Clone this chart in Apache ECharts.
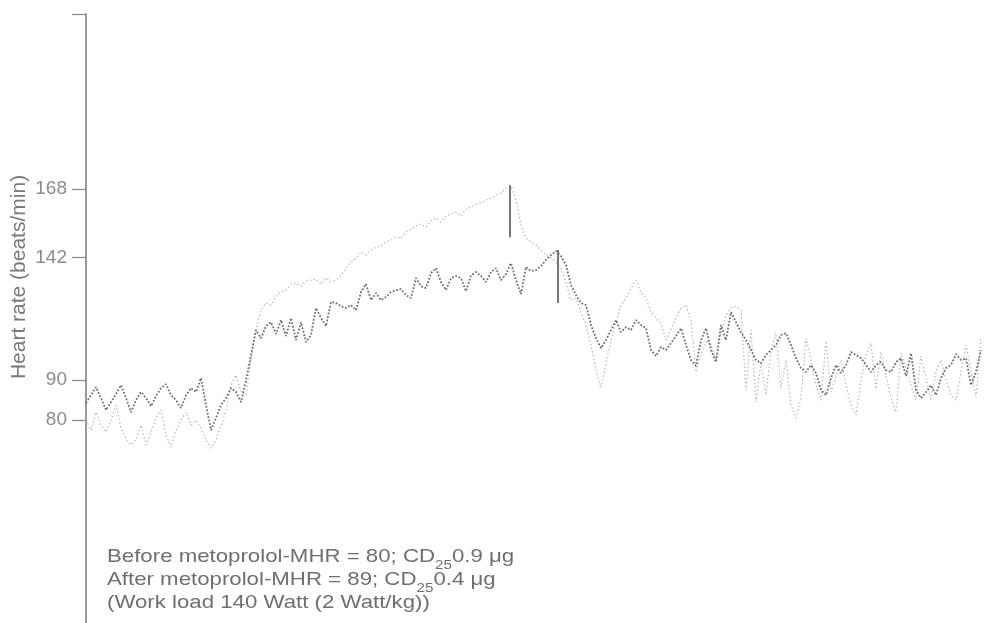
<!DOCTYPE html>
<html>
<head>
<meta charset="utf-8">
<script src="https://cdn.jsdelivr.net/npm/echarts@6/dist/echarts.min.js"></script>
<style>html,body{margin:0;padding:0;background:#fff}#c{width:985px;height:623px}</style>
</head>
<body>
<div id="c"></div>
<script>
// time step between samples (arbitrary time units)
var timeStep = 5;
// Heart rate (beats/min) before metoprolol (light trace)
var hrBefore = [80,76.2,83,78.1,75.4,80,85.7,77,73.1,70.5,72.4,78.1,70.5,75.4,80.8,83.8,74.3,69.7,76.2,80,
83,78.1,80,77,72.4,69.3,72.4,77.7,83.8,93.3,97.1,90.7,89.5,102.9,114.3,121.9,124.6,123.8,127.2,128.8,
129.5,131.8,132.2,131,132.9,133.3,133.7,131.8,134.1,132.6,133.3,134.9,137.9,140.2,141.7,144,142.9,144.8,145.9,146.3,
147.8,148.6,149.7,149.3,151.6,152.8,153.9,154.7,153.5,155.8,157,155.4,157.7,158.5,159.2,157.7,160.4,161.1,162.3,162.7,
163.8,164.6,165.7,166.5,168.4,169.1,163.8,154.3,149.3,147.8,146.7,144.8,142.9,141.7,140.2,137.9,132.2,125.7,126.5,121.1,
116.2,108.6,99,92.2,101.7,110.5,117.3,123.8,126.5,130.3,133.3,128.4,126.5,121.1,118.9,116.6,110.5,114.3,118.9,122.7,
123.8,118.1,98.3,104.8,110.5,108.6,102.9,113.5,120,122.7,123.4,121.9,91.4,114.3,86.9,101.7,89.5,106.7,113.1,92.2,
102.9,85.7,80.8,88.4,111.2,102.9,93.3,87.6,110.1,90.7,97.1,102.9,93.3,85.7,81.9,95.2,104.8,109.3,91.8,105.9,
97.1,88.4,83,105.5,99.8,93.3,87.6,104.4,96,87.6,98.3,102.9,95.2,89.5,87.6,98.3,108.6,98.3,88.8,111.6];
// Heart rate (beats/min) after metoprolol (dark trace)
var hrAfter = [86.5,89.5,92.6,88.4,83.8,86.9,89.9,93.3,88.4,83,87.6,90.7,88.4,85.3,89.1,92.2,93.7,89.5,87.6,84.6,
89.5,92.2,90.7,96,85.7,76.2,80.8,85.7,88.4,92.2,90.7,86.9,95.2,104.8,114.3,111.2,115.8,117.3,112.8,118.1,
112,118.9,110.5,117.3,109.7,112.4,122.7,118.9,115.8,125,124.6,123.4,122.7,123.8,121.9,128.8,131.8,125.7,128.4,125.7,
126.9,128.8,129.5,129.9,127.6,126.5,134.1,131,130.3,136,137.9,132.6,129.5,134.1,134.9,134.1,129.1,135.2,136.4,134.9,
132.6,136.4,137.9,133.3,135.6,139.8,133.3,128,138.3,136.8,137.1,138.7,141,142.9,144.4,142.5,139,131.4,127.6,124.6,
123.8,116.2,111.2,107.4,110.5,114.3,118.1,113.5,115.4,114.3,118.1,116.2,115,106.7,104.4,107.8,106.7,109.3,112,115,
108.6,102.9,100.6,110.5,115,106.7,102.1,116.2,110.5,121.1,117.3,113.5,110.5,106.7,102.9,101.7,104.8,106.7,108.6,112.4,
113.1,108.6,103.6,99.8,98.3,101,97.9,91.4,89.5,96,101,97.9,101,105.9,104.8,103.6,101,98.3,101,102.1,
99,98.3,102.1,103.6,96.8,105.5,91.4,88.4,90.7,93.3,89.5,96,99.8,101,105.1,102.9,103.6,93.3,98.3,106.7];
// End-of-exercise markers: time, top and bottom heart rate
var markerTime = [424, 472];
var markerTop = [169.5, 144.8];
var markerBottom = [149.7, 124.6];
// Y tick positions and their printed labels
var tickValues = [80, 95.2, 142, 168];
var tickLabels = ['80', '90', '142', '168'];
var axisMin = 2.7, axisMax = 234.7;

function pairs(arr){ return arr.map(function(v,i){ return [i*timeStep, v]; }); }
var labelMap = {};
tickValues.forEach(function(v,i){ labelMap[v] = tickLabels[i]; });

var chart = echarts.init(document.getElementById('c'));
var font = 'Liberation Sans, Arial, sans-serif';
chart.setOption({
  animation: false,
  backgroundColor: '#fff',
  grid: {left: 86, right: 0, top: 14, bottom: 0, containLabel: false},
  xAxis: {type: 'value', min: 0, max: 899, show: false},
  yAxis: {
    type: 'value', min: axisMin, max: axisMax,
    axisLine: {show: true, lineStyle: {color: '#777', width: 1.5}},
    axisTick: {show: true, length: 14, customValues: tickValues.concat([axisMax]), lineStyle: {color: '#888', width: 1.2}},
    axisLabel: {show: true, customValues: tickValues, margin: 19, color: '#8c8c8c', fontSize: 19, fontFamily: font,
      formatter: function(v){ return labelMap[v] !== undefined ? labelMap[v] : ''; }},
    splitLine: {show: false}
  },
  series: [
    {name: 'Before metoprolol', type: 'line', data: pairs(hrBefore), showSymbol: false, silent: true,
      lineStyle: {color: '#b3b3b3', width: 1.2, type: [1.4, 2.4]}},
    {name: 'After metoprolol', type: 'line', data: pairs(hrAfter), showSymbol: false, silent: true,
      lineStyle: {color: '#707070', width: 1.8, type: [1.8, 1.7]},
      markLine: {symbol: 'none', silent: true, label: {show: false},
        lineStyle: {color: '#777', width: 2, type: 'solid'},
        data: markerTime.map(function(t,i){ return [{coord: [t, markerTop[i]]}, {coord: [t, markerBottom[i]]}]; })}
    }
  ],
  graphic: [
    {type: 'text', x: 19, y: 277, rotation: Math.PI/2,
      style: {text: 'Heart rate (beats/min)', fill: '#7a7a7a', font: '21px ' + font, textAlign: 'center', textVerticalAlign: 'middle'}},
    {type: 'text', x: 107, y: 545, scaleX: 1.17,
      style: {
        text: '{a|Before metoprolol-MHR = 80; CD}{s|25}{a|0.9 μg}\n{a|After metoprolol-MHR = 89; CD}{s|25}{a|0.4 μg}\n{a|(Work load 140 Watt (2 Watt/kg))}',
        textVerticalAlign: 'top',
        rich: {
          a: {fontSize: 19, fontFamily: font, fill: '#6f6f6f', lineHeight: 23},
          s: {fontSize: 13, fontFamily: font, fill: '#6f6f6f', lineHeight: 23, verticalAlign: 'bottom', padding: [0,0,-4,0]}
        }
      }}
  ]
});
</script>
</body>
</html>
